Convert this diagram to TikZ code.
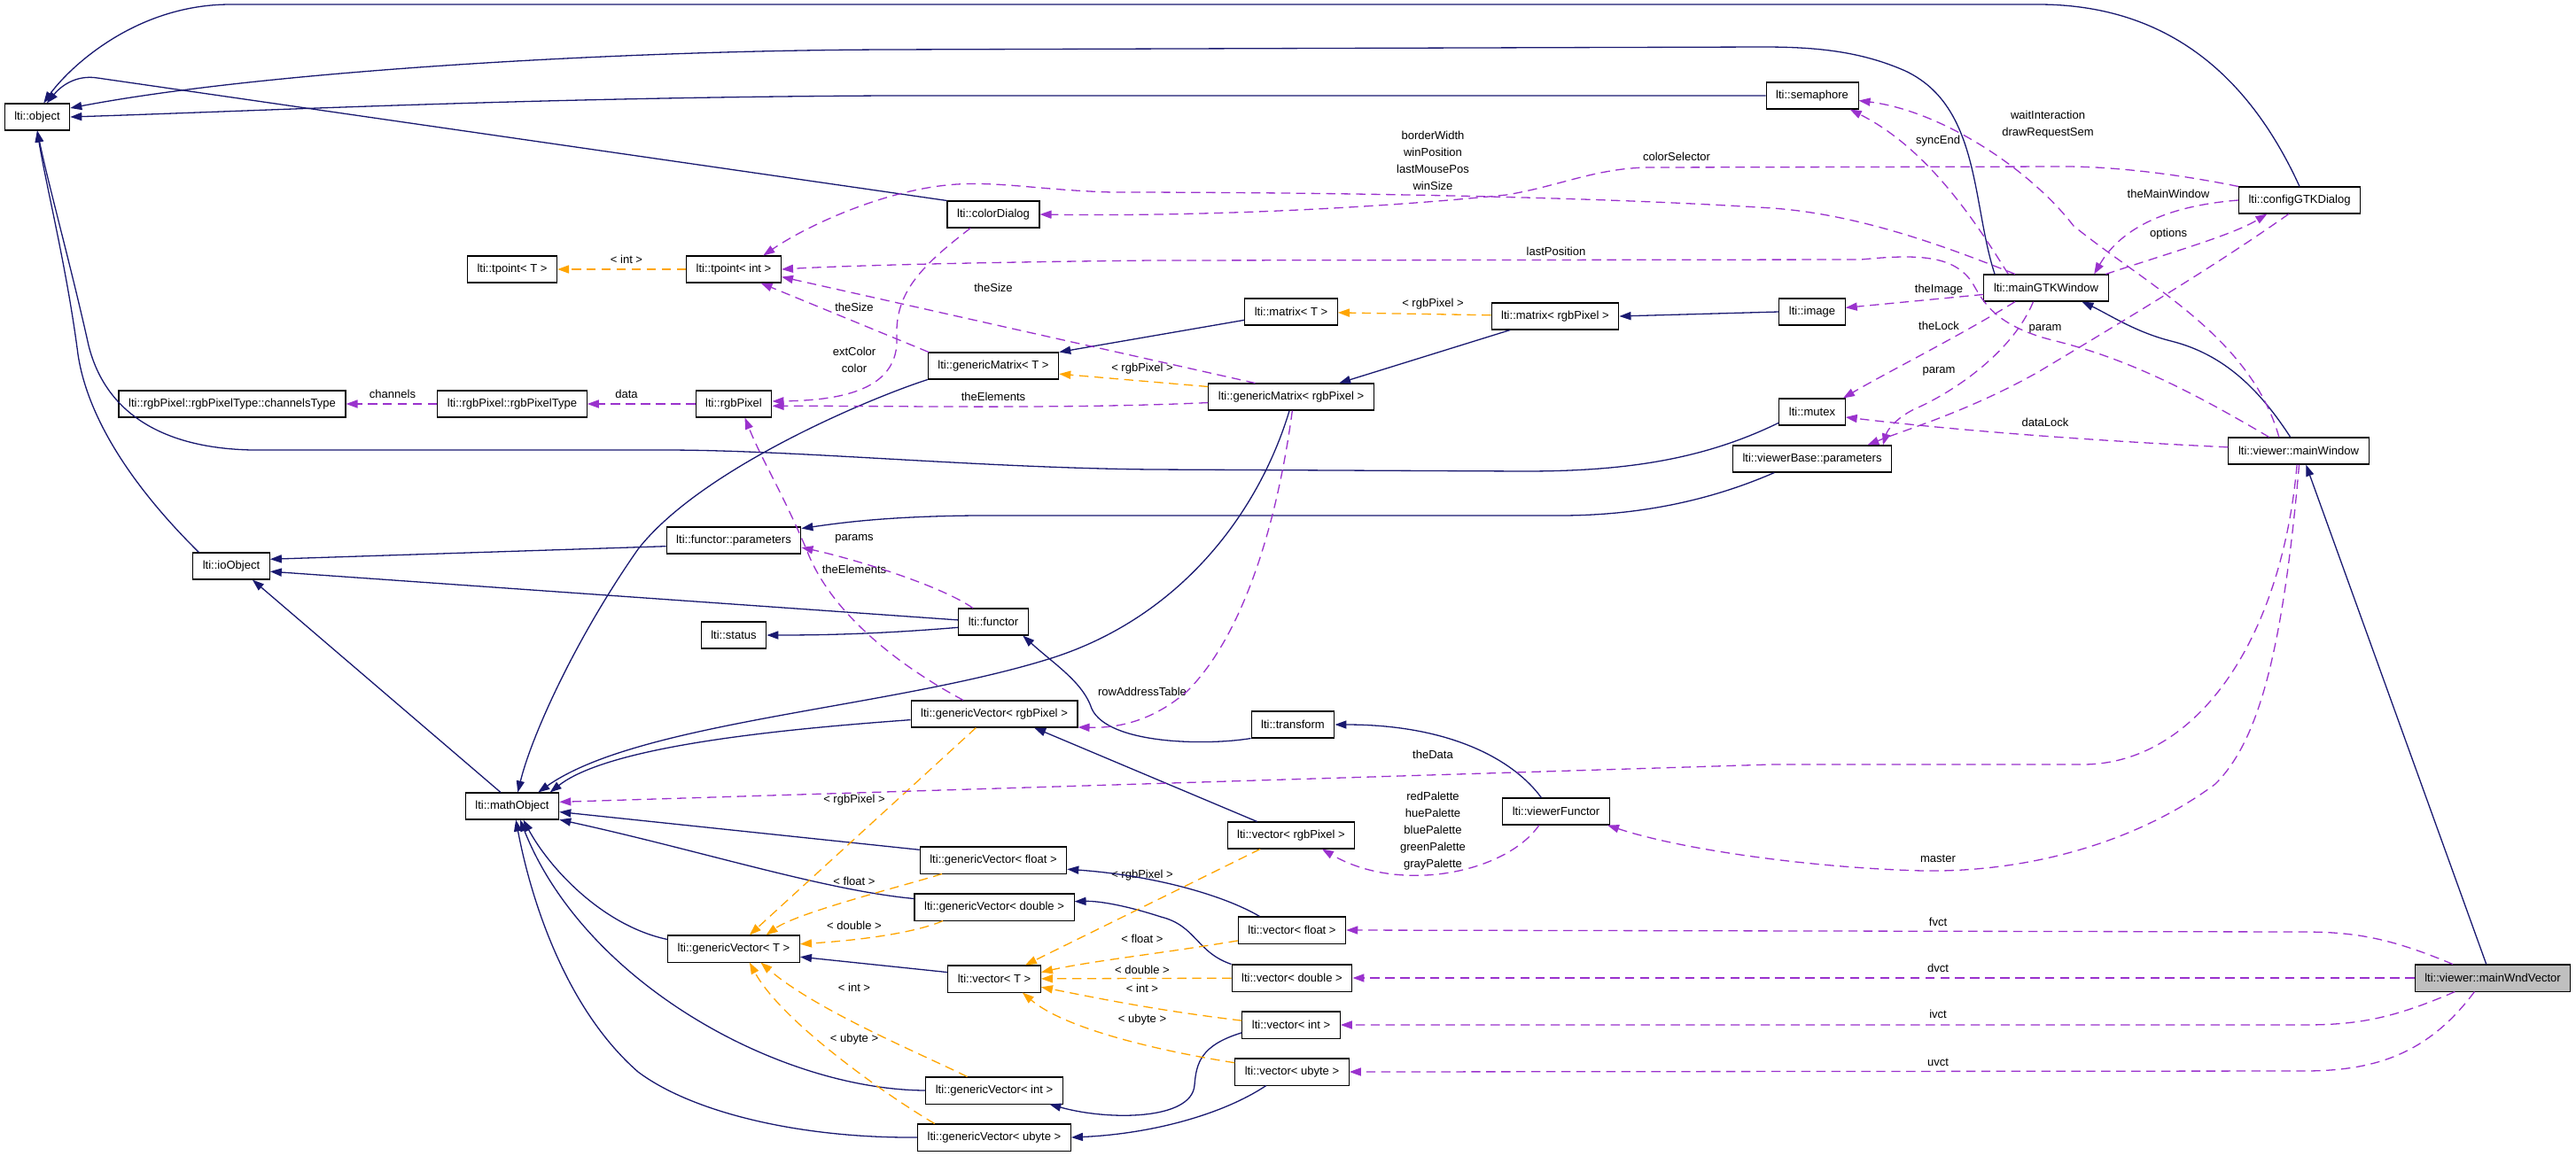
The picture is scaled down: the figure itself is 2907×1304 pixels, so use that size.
\documentclass[tikz,border=0pt]{standalone}
\usepackage{fontspec}
\setmainfont{Liberation Sans}
\usepackage{tikz}
\usetikzlibrary{arrows.meta,positioning}
\definecolor{inhcolor}{HTML}{191970}
\definecolor{membercolor}{HTML}{9A32CD}
\definecolor{instcolor}{HTML}{FFA500}

\begin{document}
\begin{tikzpicture}[
  x=0.027cm, y=-0.027cm,
  cls/.style={draw=black, line width=0.8pt, fill=white, minimum height=0.81cm,
              inner xsep=0.3cm, inner ysep=0pt, font=\fontsize{10}{12}\selectfont},
  focus/.style={cls, fill=gray!50},
  lbl/.style={font=\fontsize{10}{14.6}\selectfont, align=center, inner sep=0pt},
  inherit/.style={draw=inhcolor, line width=1pt, -{Triangle[length=10pt,width=7pt]}},
  member/.style={draw=membercolor, line width=1pt, dash pattern=on 8pt off 5pt,
                 -{Triangle[length=10pt,width=7pt]}},
  inst/.style={draw=instcolor, line width=1pt, dash pattern=on 8pt off 5pt,
               -{Triangle[length=10pt,width=7pt]}},
]
  \useasboundingbox (0,0) rectangle (2907,1304);

  % ── Classes ─────────────────────
  \node[cls] (object) at (42,132) {lti::object};
  \node[cls] (tpointT) at (578,304) {lti::tpoint< T >};
  \node[cls] (tpointInt) at (828,304) {lti::tpoint< int >};
  \node[cls] (channelsType) at (262,456) {lti::rgbPixel::rgbPixelType::channelsType};
  \node[cls] (rgbPixelType) at (578,456) {lti::rgbPixel::rgbPixelType};
  \node[cls] (rgbPixel) at (828,456) {lti::rgbPixel};
  \node[cls] (colorDialog) at (1121,242) {lti::colorDialog};
  \node[cls] (gMatrixT) at (1121,413) {lti::genericMatrix< T >};
  \node[cls] (matrixT) at (1457,352) {lti::matrix< T >};
  \node[cls] (gMatrixRGB) at (1457,448) {lti::genericMatrix< rgbPixel >};
  \node[cls] (matrixRGB) at (1755,357) {lti::matrix< rgbPixel >};
  \node[cls] (semaphore) at (2045,108) {lti::semaphore};
  \node[cls] (image) at (2045,352) {lti::image};
  \node[cls] (mutex) at (2045,465) {lti::mutex};
  \node[cls] (viewerParams) at (2045,518) {lti::viewerBase::parameters};
  \node[cls] (mainGTK) at (2309,325) {lti::mainGTKWindow};
  \node[cls] (configGTK) at (2595,226) {lti::configGTKDialog};
  \node[cls] (mainWindow) at (2594,509) {lti::viewer::mainWindow};
  \node[focus] (mainWndVector) at (2813,1104) {lti::viewer::mainWndVector};
  \node[cls] (functorParams) at (828,610) {lti::functor::parameters};
  \node[cls] (ioObject) at (261,639) {lti::ioObject};
  \node[cls] (status) at (828,717) {lti::status};
  \node[cls] (functor) at (1121,702) {lti::functor};
  \node[cls] (gVectorRGB) at (1122,806) {lti::genericVector< rgbPixel >};
  \node[cls] (transform) at (1459,818) {lti::transform};
  \node[cls] (viewerFunctor) at (1756,916) {lti::viewerFunctor};
  \node[cls] (mathObject) at (578,910) {lti::mathObject};
  \node[cls] (vectorRGB) at (1457,943) {lti::vector< rgbPixel >};
  \node[cls] (gVectorFloat) at (1121,971) {lti::genericVector< float >};
  \node[cls] (gVectorDouble) at (1122,1024) {lti::genericVector< double >};
  \node[cls] (gVectorT) at (828,1071) {lti::genericVector< T >};
  \node[cls] (vectorT) at (1122,1105) {lti::vector< T >};
  \node[cls] (vectorFloat) at (1458,1050) {lti::vector< float >};
  \node[cls] (vectorDouble) at (1458,1104) {lti::vector< double >};
  \node[cls] (vectorInt) at (1457,1157) {lti::vector< int >};
  \node[cls] (vectorUbyte) at (1458,1210) {lti::vector< ubyte >};
  \node[cls] (gVectorInt) at (1122,1231) {lti::genericVector< int >};
  \node[cls] (gVectorUbyte) at (1122,1284) {lti::genericVector< ubyte >};

  % ── Edge labels ─────────────────
  \node[lbl] (lInt) at (707,293) {< int >};
  \node[lbl] (lChannels) at (443,445) {channels};
  \node[lbl] (lData) at (707,445) {data};
  \node[lbl] (lColor) at (964,406) {extColor\\color};
  \node[lbl] (lSizeT) at (964,347) {theSize};
  \node[lbl] (lSizeRGB) at (1121,325) {theSize};
  \node[lbl] (lElemM) at (1121,448) {theElements};
  \node[lbl] (lElemV) at (964,643) {theElements};
  \node[lbl] (lParams) at (964,608) {params};
  \node[lbl] (lGMRGB) at (1289,416) {< rgbPixel >};
  \node[lbl] (lMRGB) at (1617,343) {< rgbPixel >};
  \node[lbl] (lWin) at (1617,181) {borderWidth\\winPosition\\lastMousePos\\winSize};
  \node[lbl] (lColorSel) at (1892,177) {colorSelector};
  \node[lbl] (lLastPos) at (1756,284) {lastPosition};
  \node[lbl] (lSync) at (2187,159) {syncEnd};
  \node[lbl] (lWait) at (2311,141) {waitInteraction\\drawRequestSem};
  \node[lbl] (lMainWin) at (2447,219) {theMainWindow};
  \node[lbl] (lOptions) at (2447,264) {options};
  \node[lbl] (lImage) at (2188,327) {theImage};
  \node[lbl] (lLock) at (2188,368) {theLock};
  \node[lbl] (lParamCfg) at (2308,371) {param};
  \node[lbl] (lParamGTK) at (2188,419) {param};
  \node[lbl] (lDataLock) at (2308,477) {dataLock};
  \node[lbl] (lRowAddr) at (1289,781) {rowAddressTable};
  \node[lbl] (lTheData) at (1617,852) {theData};
  \node[lbl] (lPalette) at (1617,938) {redPalette\\huePalette\\bluePalette\\greenPalette\\grayPalette};
  \node[lbl] (lMaster) at (2187,969) {master};
  \node[lbl] (lVRGB) at (964,903) {< rgbPixel >};
  \node[lbl] (lVFloat) at (964,995) {< float >};
  \node[lbl] (lVDouble) at (964,1045) {< double >};
  \node[lbl] (lVInt) at (964,1115) {< int >};
  \node[lbl] (lVUbyte) at (964,1173) {< ubyte >};
  \node[lbl] (lRGB2) at (1289,988) {< rgbPixel >};
  \node[lbl] (lFloat2) at (1289,1060) {< float >};
  \node[lbl] (lDouble2) at (1289,1095) {< double >};
  \node[lbl] (lInt2) at (1289,1116) {< int >};
  \node[lbl] (lUbyte2) at (1289,1151) {< ubyte >};
  \node[lbl] (lFvct) at (2187,1041) {fvct};
  \node[lbl] (lDvct) at (2187,1093) {dvct};
  \node[lbl] (lIvct) at (2187,1145) {ivct};
  \node[lbl] (lUvct) at (2187,1199) {uvct};

  % ── Inheritance ─────────────────
  \draw[inherit] (configGTK.north) .. controls (2540,90) and (2450,5) .. (2300,5)
        -- (260,5) .. controls (150,5) and (75,80) .. (object.65);
  \draw[inherit] (colorDialog.north west) -- (110,88) .. controls (85,84) and (68,98) .. (object.55);
  \draw[inherit] (mainGTK.165) .. controls (2225,230) and (2235,120) .. (2150,80)
        .. controls (2100,58) and (2050,53) .. (1990,53) -- (1000,56)
        .. controls (700,57) and (300,80) .. (object.15);
  \draw[inherit] (semaphore.west) -- (1000,108) .. controls (600,110) and (300,125) .. (object.east);
  \draw[inherit] (mutex.198) .. controls (1920,520) and (1830,532) .. (1720,532) -- (1300,530)
        .. controls (1100,528) and (900,508) .. (750,508) -- (300,508)
        .. controls (190,510) and (120,470) .. (100,390) .. controls (80,300) and (55,210) .. (object.south);
  \draw[inherit] (ioObject.157) .. controls (160,560) and (100,480) .. (88,400)
        .. controls (75,300) and (52,210) .. (object.south);
  \draw[inherit] (functorParams.185) -- (ioObject.10);
  \draw[inherit] (functor.177) -- (ioObject.-8);
  \draw[inherit] (functor.189) .. controls (1000,715) and (940,717) .. (status.east);
  \draw[inherit] (viewerParams.200) .. controls (1930,565) and (1850,582) .. (1760,582) -- (1100,582)
        .. controls (1000,583) and (950,590) .. (functorParams.10);
  \draw[inherit] (mathObject.130) -- (ioObject.-33);
  \draw[inherit] (gMatrixT.south west) .. controls (980,450) and (790,530) .. (720,620)
        .. controls (650,720) and (600,830) .. (mathObject.68);
  \draw[inherit] (gMatrixRGB.-97) .. controls (1420,580) and (1330,700) .. (1180,745)
        .. controls (1000,800) and (720,815) .. (mathObject.28);
  \draw[inherit] (gVectorRGB.184) .. controls (900,822) and (690,840) .. (mathObject.20);
  \draw[inherit] (gVectorFloat.172) -- (mathObject.-7);
  \draw[inherit] (gVectorDouble.174) .. controls (930,1005) and (790,960) .. (mathObject.-16);
  \draw[inherit] (gVectorT.172) .. controls (680,1045) and (620,980) .. (mathObject.-51);
  \draw[inherit] (gVectorInt.west) .. controls (880,1230) and (660,1110) .. (mathObject.-60);
  \draw[inherit] (gVectorUbyte.west) .. controls (900,1285) and (780,1255) .. (720,1210)
        .. controls (640,1140) and (600,1020) .. (mathObject.-75);
  \draw[inherit] (matrixT.190) -- (gMatrixT.north east);
  \draw[inherit] (matrixRGB.197) -- (gMatrixRGB.16);
  \draw[inherit] (image.west) -- (matrixRGB.east);
  \draw[inherit] (mainWindow.121) .. controls (2550,440) and (2510,400) .. (2450,385)
        .. controls (2410,375) and (2380,355) .. (mainGTK.-21);
  \draw[inherit] (mainWndVector.115) -- (mainWindow.-62);
  \draw[inherit] (transform.south west) .. controls (1360,842) and (1250,840) .. (1232,800)
        .. controls (1222,770) and (1190,750) .. (functor.-25);
  \draw[inherit] (viewerFunctor.137) .. controls (1710,860) and (1640,818) .. (transform.east);
  \draw[inherit] (vectorRGB.158) -- (gVectorRGB.-19);
  \draw[inherit] (vectorFloat.157) .. controls (1380,1010) and (1300,988) .. (gVectorFloat.-7);
  \draw[inherit] (vectorDouble.north west) .. controls (1350,1075) and (1350,1045) .. (1310,1035)
        .. controls (1270,1022) and (1240,1017) .. (gVectorDouble.4);
  \draw[inherit] (vectorT.172) -- (gVectorT.-7);
  \draw[inherit] (vectorInt.189) .. controls (1355,1180) and (1350,1200) .. (1348,1225)
        .. controls (1345,1265) and (1250,1265) .. (gVectorInt.-14);
  \draw[inherit] (vectorUbyte.208) .. controls (1380,1258) and (1300,1280) .. (gVectorUbyte.east);

  % ── Template instances ──────────
  \draw[inst] (tpointInt) -- (tpointT);
  \draw[inst] (gMatrixRGB.173) -- (gMatrixT.-7);
  \draw[inst] (matrixRGB) -- (matrixT);
  \draw[inst] (gVectorRGB.217) -- (gVectorT.41);
  \draw[inst] (gVectorFloat.195) .. controls (1020,1000) and (900,1030) .. (gVectorT.23);
  \draw[inst] (gVectorDouble.195) .. controls (1040,1050) and (990,1060) .. (gVectorT.4);
  \draw[inst] (gVectorInt.153) .. controls (1040,1190) and (920,1140) .. (gVectorT.-27);
  \draw[inst] (gVectorUbyte.167) .. controls (990,1230) and (880,1150) .. (gVectorT.-41);
  \draw[inst] (vectorRGB.204) -- (vectorT.24);
  \draw[inst] (vectorFloat.191) .. controls (1320,1075) and (1230,1085) .. (vectorT.8);
  \draw[inst] (vectorDouble) -- (vectorT);
  \draw[inst] (vectorInt.175) .. controls (1300,1140) and (1230,1125) .. (vectorT.-10);
  \draw[inst] (vectorUbyte.171) .. controls (1300,1185) and (1200,1160) .. (vectorT.-26);

  % ── Members ─────────────────────
  \draw[member] (rgbPixelType) -- (channelsType);
  \draw[member] (rgbPixel) -- (rgbPixelType);
  \draw[member] (colorDialog.211) .. controls (1040,300) and (1010,330) .. (1012,380)
        .. controls (1015,440) and (950,452) .. (rgbPixel.4);
  \draw[member] (gMatrixRGB.184) .. controls (1200,462) and (1000,458) .. (rgbPixel.-3);
  \draw[member] (gVectorRGB.156) .. controls (1030,760) and (940,700) .. (910,620)
        .. controls (880,550) and (860,520) .. (rgbPixel.-51);
  \draw[member] (functor.146) .. controls (1060,660) and (960,630) .. (functorParams.-6);
  \draw[member] (gMatrixT.168) -- (tpointInt.-27);
  \draw[member] (gMatrixRGB.159) -- (tpointInt.-9);
  \draw[member] (mainGTK.156) .. controls (2200,280) and (2100,242) .. (2000,235)
        .. controls (1800,222) and (1500,217) .. (1255,217)
        .. controls (1180,215) and (1130,205) .. (1080,208)
        .. controls (1000,213) and (910,255) .. (tpointInt.25);
  \draw[member] (mainWindow.155) .. controls (2470,440) and (2400,405) .. (2320,385)
        .. controls (2250,368) and (2238,340) .. (2225,318)
        .. controls (2205,290) and (2170,286) .. (2100,293) -- (1300,294)
        .. controls (1100,296) and (950,300) .. (tpointInt.east);
  \draw[member] (configGTK.north west) .. controls (2450,195) and (2380,188) .. (2330,188)
        -- (1860,189) .. controls (1800,190) and (1760,210) .. (1700,220)
        .. controls (1500,240) and (1300,244) .. (colorDialog.east);
  \draw[member] (mainGTK.160) .. controls (2235,260) and (2180,170) .. (semaphore.-20);
  \draw[member] (mainWindow.145) .. controls (2540,380) and (2420,320) .. (2340,255)
        .. controls (2290,190) and (2190,125) .. (semaphore.-6);
  \draw[member] (configGTK.west) .. controls (2450,232) and (2395,255) .. (mainGTK.16);
  \draw[member] (mainGTK.13) .. controls (2450,285) and (2520,265) .. (configGTK.203);
  \draw[member] (mainGTK.186) -- (image.7);
  \draw[member] (mainGTK.204) .. controls (2210,380) and (2130,420) .. (mutex.24);
  \draw[member] (mainGTK.227) .. controls (2270,400) and (2200,445) .. (2160,462)
        .. controls (2140,472) and (2130,485) .. (viewerParams.11);
  \draw[member] (configGTK.232) .. controls (2500,300) and (2400,360) .. (2300,420)
        .. controls (2220,465) and (2150,485) .. (viewerParams.14);
  \draw[member] (mainWindow.177) .. controls (2350,497) and (2200,485) .. (mutex.-9);
  \draw[member] (mainWindow.-97) .. controls (2575,720) and (2480,863) .. (2350,863)
        -- (2000,863) -- (mathObject.5);
  \draw[member] (mainWindow.-88) .. controls (2575,750) and (2545,840) .. (2500,885)
        .. controls (2420,945) and (2300,985) .. (2170,983)
        .. controls (2050,980) and (1900,960) .. (viewerFunctor.-15);
  \draw[member] (viewerFunctor.219) .. controls (1700,985) and (1580,1010) .. (vectorRGB.-24);
  \draw[member] (mainWndVector.161) .. controls (2700,1060) and (2660,1052) .. (2600,1052)
        -- (vectorFloat.east);
  \draw[member] (mainWndVector.west) -- (vectorDouble.east);
  \draw[member] (mainWndVector.200) .. controls (2700,1150) and (2660,1157) .. (2600,1157)
        -- (vectorInt.east);
  \draw[member] (mainWndVector.217) .. controls (2740,1190) and (2680,1209) .. (2600,1209)
        -- (vectorUbyte.east);
  \draw[member] (gMatrixRGB.-85) .. controls (1440,600) and (1400,720) .. (1340,780)
        .. controls (1300,815) and (1260,822) .. (gVectorRGB.-9);
\end{tikzpicture}
\end{document}
